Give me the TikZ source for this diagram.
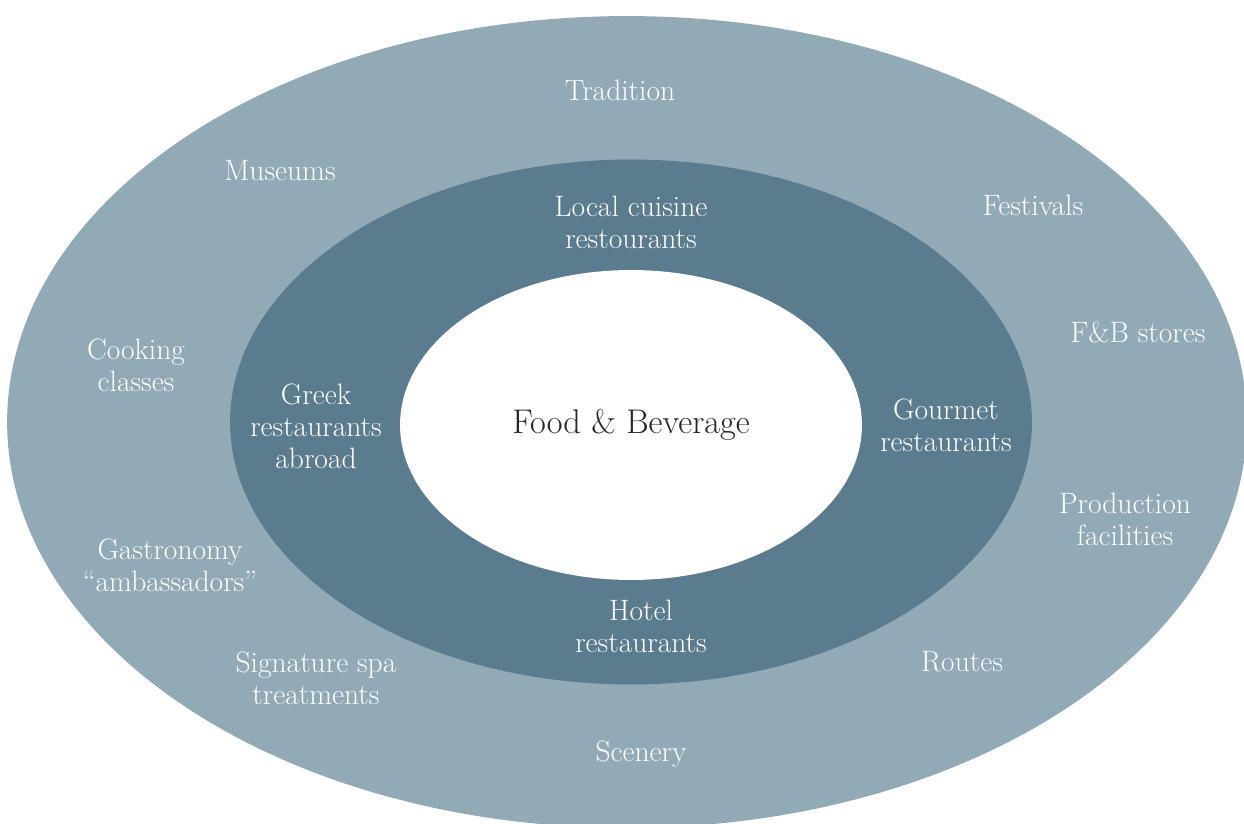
\documentclass[tikz,border=0pt]{standalone}
\usepackage{tikz}
\usetikzlibrary{positioning}
\definecolor{outerring}{RGB}{146,169,182}
\definecolor{innerring}{RGB}{91,123,143}

\begin{document}
\begin{tikzpicture}[
        x=0.02cm, y=-0.02cm,
        label/.style={text=white, align=center, font=\fontsize{16.8}{18.2}\selectfont},
        core/.style={text=black!85, align=center, font=\fontsize{19.5}{22}\selectfont}
    ]
    
    \useasboundingbox (0,0) rectangle (1244,824);
    \clip (0,0) rectangle (1244,824);
    
    % rings
    \fill[outerring] (627,422) ellipse [x radius=12.4cm, y radius=8.12cm];
    \fill[innerring] (631,422) ellipse [x radius=8.02cm, y radius=5.25cm];
    \fill[white] (631,425) ellipse [x radius=4.62cm, y radius=3.1cm];
    
    \node[core] (fb) at (631,425) {Food \& Beverage};
    
    % inner ring
    \node[label] (local) at (631,222) {Local cuisine\\restourants};
    \node[label] (greek) at (316,426) {Greek\\restaurants\\abroad};
    \node[label] (gourmet) at (946,425) {Gourmet\\restaurants};
    \node[label] (hotel) at (641,626) {Hotel\\restaurants};
    
    % outer ring
    \node[label] (tradition) at (620,90) {Tradition};
    \node[label] (museums) at (280,171) {Museums};
    \node[label] (festivals) at (1033,205) {Festivals};
    \node[label] (cooking) at (136,365) {Cooking\\classes};
    \node[label] (stores) at (1138,332) {F\&B stores};
    \node[label] (production) at (1125,519) {Production\\facilities};
    \node[label] (ambassadors) at (170,565) {Gastronomy\\``ambassadors''};
    \node[label] (spa) at (316,678) {Signature spa\\treatments};
    \node[label] (routes) at (962,662) {Routes};
    \node[label] (scenery) at (641,754) {Scenery};
    
\end{tikzpicture}
\end{document}
